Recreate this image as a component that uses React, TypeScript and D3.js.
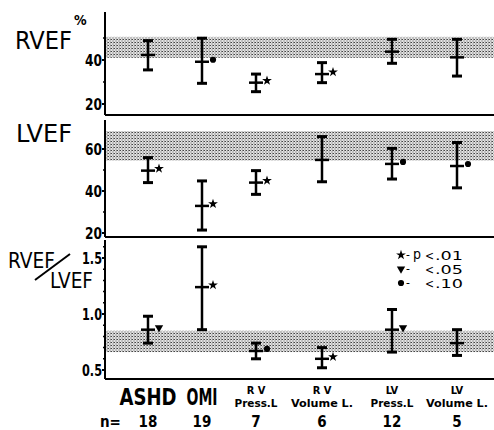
import React from "react";
import * as d3 from "d3";

const categories = ["ASHD", "OMI", "RVP", "RVV", "LVP", "LVV"];
const labelTop = ["", "", "R V", "R V", "LV", "LV"];
const labelMain = ["ASHD", "OMI", "Press.L", "Volume L.", "Press.L", "Volume L."];
const nValues = ["18", "19", "7", "6", "12", "5"];

const rvefMean = [42.3, 39.2, 29.7, 33.6, 43.8, 41.2];
const rvefLow = [35.5, 29.4, 25.6, 29.7, 38.5, 32.7];
const rvefHigh = [48.8, 49.9, 33.6, 38.8, 49.4, 49.4];
const rvefSig = ["", "dot", "star", "star", "", ""];

const lvefMean = [49.7, 32.9, 44, 54.8, 52.9, 51.9];
const lvefLow = [44, 21.4, 38.4, 44.4, 45.7, 41.5];
const lvefHigh = [55.9, 44.8, 49.7, 65.9, 60.3, 63.1];
const lvefSig = ["star", "star", "star", "", "dot", "dot"];

const ratioMean = [0.86, 1.24, 0.67, 0.6, 0.86, 0.74];
const ratioLow = [0.74, 0.86, 0.6, 0.52, 0.66, 0.63];
const ratioHigh = [0.98, 1.6, 0.74, 0.7, 1.04, 0.86];
const ratioSig = ["tri", "star", "dot", "star", "tri", ""];

const rvefBand = [41, 50.5];
const lvefBand = [54.5, 68.5];
const ratioBand = [0.66, 0.85];

const rvefTicks = [20, 40];
const rvefMinor = [30, 50];
const lvefTicks = [20, 40, 60];
const lvefMinor = [30, 50];
const ratioTicks = ["0.5", "1.0", "1.5"];
const ratioMinor = [0.6, 0.7, 0.8, 0.9, 1.1, 1.2, 1.3, 1.4, 1.6];

const legendSymbols = ["star", "tri", "dot"];
const legendP = ["p", "", ""];
const legendValues = [".01", ".05", ".10"];

const W = 494;
const H = 430;
const AX = 105;
const FONT = "'DejaVu Sans Condensed', 'Liberation Sans', Arial, sans-serif";

const xScale = d3.scaleOrdinal<string, number>().domain(categories).range([148, 202, 256, 322, 392, 457]);

function symbolPath(kind: string, size = 30) {
  if (kind === "star") return d3.symbol(d3.symbolStar, size)() || "";
  if (kind === "tri") return d3.symbol(d3.symbolTriangle, size)() || "";
  return d3.symbol(d3.symbolCircle, size)() || "";
}

function Marker({ kind, x, y }: { kind: string; x: number; y: number }) {
  if (!kind) return null;
  const rot = kind === "tri" ? " rotate(180)" : "";
  return <path d={symbolPath(kind)} transform={`translate(${x},${y})${rot}`} fill="#000" />;
}

type PanelProps = {
  y: d3.ScaleLinear<number, number>;
  top: number;
  bottom: number;
  band: number[];
  mean: number[];
  low: number[];
  high: number[];
  sig: string[];
  ticks: (number | string)[];
  minor: number[];
};

function Panel({ y, top, bottom, band, mean, low, high, sig, ticks, minor }: PanelProps) {
  return (
    <g>
      <rect x={AX + 1} y={y(band[1])} width={W - AX - 1} height={y(band[0]) - y(band[1])} fill="url(#stip)" />
      <line x1={AX} x2={AX} y1={top} y2={bottom} stroke="#000" strokeWidth={2} />
      <line x1={AX} x2={W} y1={bottom} y2={bottom} stroke="#000" strokeWidth={2} />
      {ticks.map((t) => {
        const s = String(t);
        return (
          <g key={"t" + t}>
            <line x1={AX - 3} x2={AX} y1={y(+t)} y2={y(+t)} stroke="#000" strokeWidth={2} />
            <text x={102} y={y(+t) + 6} textAnchor="end" fontSize={16} fontWeight={700} fontFamily={FONT}
              textLength={s.length === 2 ? 17 : 20} lengthAdjust="spacingAndGlyphs">
              {s}
            </text>
          </g>
        );
      })}
      {minor.map((t) => (
        <line key={"m" + t} x1={AX - 2} x2={AX} y1={y(t)} y2={y(t)} stroke="#000" strokeWidth={1.5} />
      ))}
      {categories.map((c, i) => {
        const cx = xScale(c);
        return (
          <g key={c}>
            <line x1={cx} x2={cx} y1={y(high[i])} y2={y(low[i])} stroke="#000" strokeWidth={2.5} />
            <line x1={cx - 5} x2={cx + 5} y1={y(high[i])} y2={y(high[i])} stroke="#000" strokeWidth={3} />
            <line x1={cx - 5} x2={cx + 5} y1={y(low[i])} y2={y(low[i])} stroke="#000" strokeWidth={3} />
            <line x1={cx - 7} x2={cx + 7} y1={y(mean[i])} y2={y(mean[i])} stroke="#000" strokeWidth={2.5} />
            <Marker kind={sig[i]} x={cx + 11} y={y(mean[i]) - 2} />
          </g>
        );
      })}
    </g>
  );
}

export default function App() {
  const yTop = d3.scaleLinear().domain([20, 40]).range([104, 60]);
  const yMid = d3.scaleLinear().domain([20, 60]).range([233, 149]);
  const yBot = d3.scaleLinear().domain([0.5, 1.5]).range([370, 258]);

  return (
    <svg width={W} height={H} style={{ position: "absolute", left: 0, top: 0, background: "#fff" }}>
      <defs>
        <pattern id="stip" width={3} height={3} patternUnits="userSpaceOnUse">
          <rect width={3} height={3} fill="#e4e4e4" />
          <rect x={0} y={0} width={1} height={1} fill="#444" />
          <rect x={1.5} y={1.5} width={1} height={1} fill="#555" />
          <rect x={2} y={0} width={1} height={1} fill="#888" />
        </pattern>
      </defs>
      <rect width={W} height={H} fill="#fff" />

      <Panel y={yTop} top={12} bottom={115} band={rvefBand} mean={rvefMean} low={rvefLow} high={rvefHigh} sig={rvefSig} ticks={rvefTicks} minor={rvefMinor} />
      <Panel y={yMid} top={120} bottom={237} band={lvefBand} mean={lvefMean} low={lvefLow} high={lvefHigh} sig={lvefSig} ticks={lvefTicks} minor={lvefMinor} />
      <Panel y={yBot} top={240} bottom={379} band={ratioBand} mean={ratioMean} low={ratioLow} high={ratioHigh} sig={ratioSig} ticks={ratioTicks} minor={ratioMinor} />

      {/* left titles */}
      <text x={15} y={49} fontSize={24} fontWeight={500} fontFamily={FONT} textLength={57} lengthAdjust="spacingAndGlyphs">RVEF</text>
      <text x={74} y={25} fontSize={14} fontWeight={700} fontFamily={FONT}>%</text>
      <text x={16} y={142} fontSize={24} fontWeight={500} fontFamily={FONT} textLength={56} lengthAdjust="spacingAndGlyphs">LVEF</text>
      <text x={8} y={268} fontSize={21} fontFamily={FONT} textLength={47} lengthAdjust="spacingAndGlyphs">RVEF</text>
      <text x={50} y={288} fontSize={21} fontFamily={FONT} textLength={43} lengthAdjust="spacingAndGlyphs">LVEF</text>
      <line x1={35} y1={280} x2={70} y2={254} stroke="#000" strokeWidth={2} />

      {/* legend */}
      {legendSymbols.map((s, i) => {
        const ry = 255 + i * 14;
        return (
          <g key={s} fontFamily={FONT}>
            <Marker kind={s} x={401} y={ry} />
            <text x={406} y={ry + 4} fontSize={12}>-</text>
            {legendP[i] ? <text x={413} y={ry + 4} fontSize={14}>{legendP[i]}</text> : null}
            <text x={425} y={ry + 5} fontSize={12}>{"<"}</text>
            <text x={435} y={ry + 5} fontSize={13} textLength={28} lengthAdjust="spacingAndGlyphs">{legendValues[i]}</text>
          </g>
        );
      })}

      {/* category labels */}
      {categories.map((c, i) => {
        const cx = xScale(c);
        const big = labelTop[i] === "";
        return (
          <g key={"l" + c} fontFamily={FONT}>
            {big ? (
              <text x={cx} y={405} fontSize={23} fontWeight={700} textAnchor="middle"
                textLength={c === "ASHD" ? 57 : 31} lengthAdjust="spacingAndGlyphs">{labelMain[i]}</text>
            ) : (
              <>
                <text x={cx} y={394} fontSize={11} fontWeight={700} textAnchor="middle">{labelTop[i]}</text>
                <text x={cx} y={406.5} fontSize={11} fontWeight={700} textAnchor="middle"
                  textLength={labelMain[i].length > 7 ? 62 : 43} lengthAdjust="spacingAndGlyphs">{labelMain[i]}</text>
              </>
            )}
            <text x={cx} y={427} fontSize={15} fontWeight={700} textAnchor="middle">{nValues[i]}</text>
          </g>
        );
      })}
      <text x={100} y={427} fontSize={15} fontWeight={700} fontFamily={FONT}>n=</text>
    </svg>
  );
}
